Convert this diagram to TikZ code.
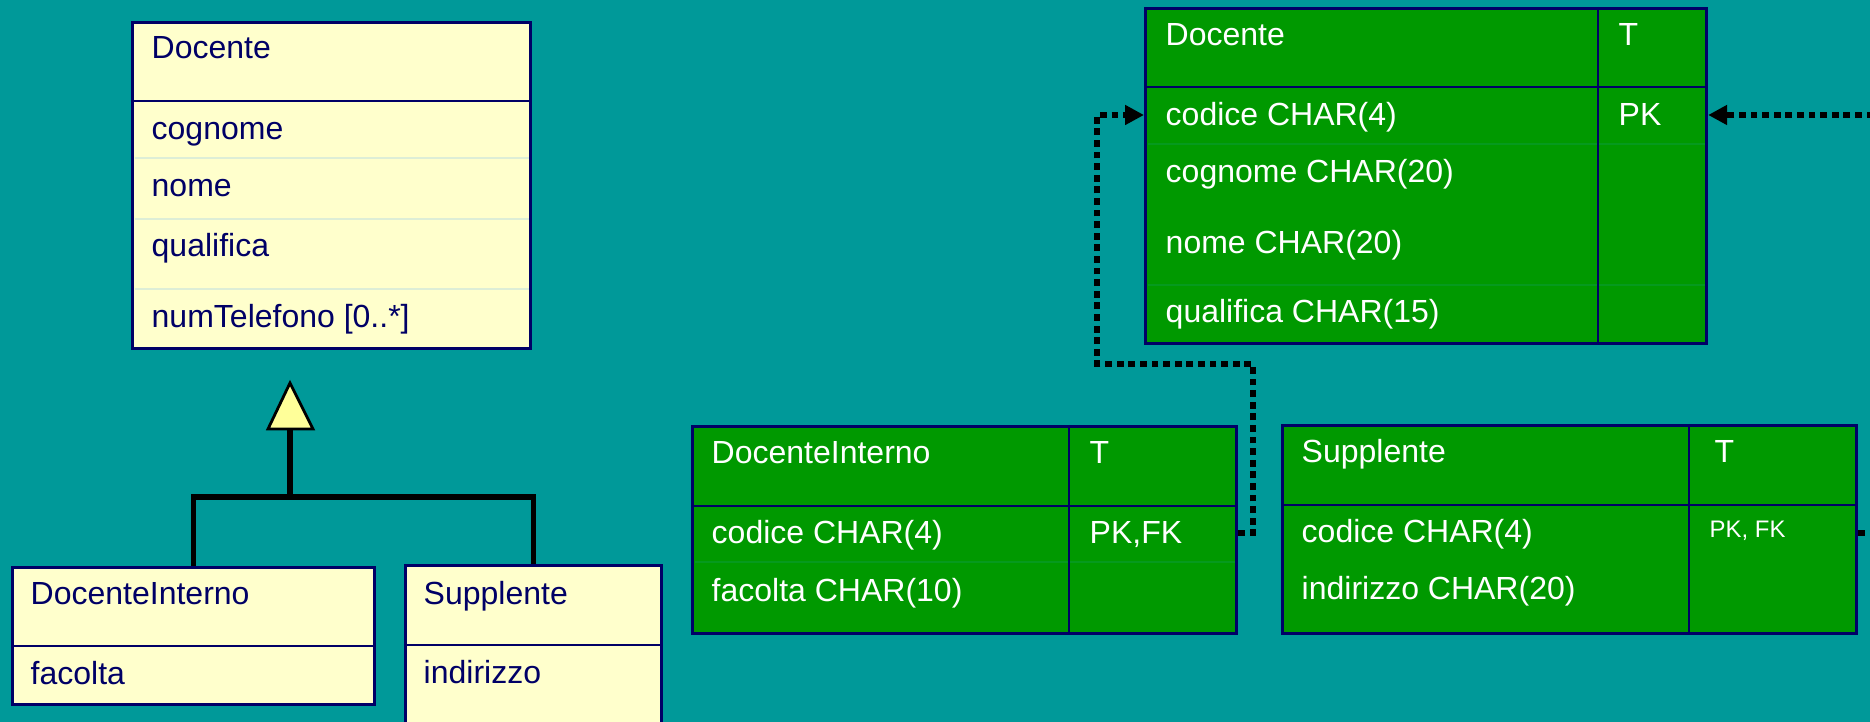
\documentclass[tikz,border=0pt]{standalone}
\usepackage{fontspec}
\setmainfont{Liberation Sans}
\usetikzlibrary{arrows.meta}

\definecolor{bgteal}{HTML}{009999}
\definecolor{tabgreen}{HTML}{009900}
\definecolor{umlfill}{HTML}{FFFFCC}
\definecolor{navy}{HTML}{000066}
\definecolor{genfill}{HTML}{FFFF99}
\definecolor{umlrule}{HTML}{DDEED6}
\definecolor{tabrule}{HTML}{059A1E}

\begin{document}
\begin{tikzpicture}[x=0.01cm, y=-0.01cm]
  \tikzstyle{umlbox} = [draw=navy, fill=umlfill, line width=0.8pt, anchor=north west, inner sep=0pt];
  \tikzstyle{tabbox} = [draw=navy, fill=tabgreen, line width=0.8pt, anchor=north west, inner sep=0pt];
  \tikzstyle{umltext} = [anchor=base west, inner sep=0pt, text=navy, font=\fontsize{9.1}{11}\selectfont];
  \tikzstyle{tabtext} = [anchor=base west, inner sep=0pt, text=white, font=\fontsize{9.1}{11}\selectfont];
  \tikzstyle{keytext} = [tabtext, font=\fontsize{6.8}{8}\selectfont];
  \tikzstyle{rule} = [draw=navy, line width=0.8pt];
  \tikzstyle{faint} = [shorten >=1pt, shorten <=1pt];
  \tikzstyle{genline} = [line width=1.6pt];
  \tikzstyle{fkline} = [line width=1.95pt, dash pattern=on 1.95pt off 1.35pt];
  \tikzstyle{fkhead} = [-{Triangle[length=0.19cm, width=0.19cm]}];

  \useasboundingbox (0,0) rectangle (1870,722);
  \fill[bgteal] (0,0) rectangle (1870,722);
  \clip (0,0) rectangle (1870,722);

  % UML classes
  \node[umlbox, minimum width=3.98cm, minimum height=3.26cm] (umlDocente) at (131,21) {};
  \node[umlbox, minimum width=3.62cm, minimum height=1.37cm] (umlInterno) at (11,566) {};
  \node[umlbox, minimum width=2.56cm, minimum height=1.80cm] (umlSupplente) at (404,564) {};

  \draw[rule] (umlDocente.west |- 0,101) -- (umlDocente.east |- 0,101);
  \foreach \y in {158,219,289}
    \draw[umlrule, faint] (umlDocente.west |- 0,\y) -- (umlDocente.east |- 0,\y);
  \draw[rule] (umlInterno.west |- 0,646) -- (umlInterno.east |- 0,646);
  \draw[rule] (umlSupplente.west |- 0,645) -- (umlSupplente.east |- 0,645);

  \node[umltext] (uDocente) at (151,59) {Docente};
  \node[umltext] (uCognome) at (151,140) {cognome};
  \node[umltext] (uNome) at (151,197) {nome};
  \node[umltext] (uQualifica) at (151,257) {qualifica};
  \node[umltext] (uTelefono) at (151,328) {numTelefono [0..*]};
  \node[umltext] (uInterno) at (30,605) {DocenteInterno};
  \node[umltext] (uFacolta) at (30,684) {facolta};
  \node[umltext] (uSupplente) at (423,604) {Supplente};
  \node[umltext] (uIndirizzo) at (423,683) {indirizzo};

  % generalizzazione
  \draw[line width=0.8pt, fill=genfill] (290,383) -- (313,429) -- (268,429) -- cycle;
  \coordinate (genTip) at (290,429);
  \coordinate (genJoin) at (290,497);
  \draw[genline] (umlInterno.north) |- (umlSupplente.north |- genJoin) -- (umlSupplente.north);
  \draw[genline] (genJoin) -- (genTip);

  % tabelle
  \node[tabbox, minimum width=5.61cm, minimum height=3.35cm] (tabDocente) at (1144,7) {};
  \node[tabbox, minimum width=5.44cm, minimum height=2.07cm] (tabInterno) at (691,425) {};
  \node[tabbox, minimum width=5.74cm, minimum height=2.08cm] (tabSupplente) at (1281,424) {};

  \foreach \y in {144,285}
    \draw[tabrule, faint] (tabDocente.west |- 0,\y) -- (tabDocente.east |- 0,\y);
  \draw[tabrule, faint] (tabInterno.west |- 0,562) -- (tabInterno.east |- 0,562);
  \draw[rule] (tabDocente.west |- 0,87) -- (tabDocente.east |- 0,87);
  \draw[rule] (tabDocente.north -| 1598,0) -- (tabDocente.south -| 1598,0);
  \draw[rule] (tabInterno.west |- 0,506) -- (tabInterno.east |- 0,506);
  \draw[rule] (tabInterno.north -| 1069,0) -- (tabInterno.south -| 1069,0);
  \draw[rule] (tabSupplente.west |- 0,505) -- (tabSupplente.east |- 0,505);
  \draw[rule] (tabSupplente.north -| 1689,0) -- (tabSupplente.south -| 1689,0);

  \node[tabtext] (tDocente) at (1165,46) {Docente};
  \node[tabtext] (tDocT) at (1618,46) {T};
  \node[tabtext] (tDocCodice) at (1165,126) {codice CHAR(4)};
  \node[tabtext] (tDocPK) at (1618,126) {PK};
  \node[tabtext] (tDocCognome) at (1165,183) {cognome CHAR(20)};
  \node[tabtext] (tDocNome) at (1165,254) {nome CHAR(20)};
  \node[tabtext] (tDocQualifica) at (1165,323) {qualifica CHAR(15)};

  \node[tabtext] (tInterno) at (711,464) {DocenteInterno};
  \node[tabtext] (tIntT) at (1089,464) {T};
  \node[tabtext] (tIntCodice) at (711,544) {codice CHAR(4)};
  \node[tabtext] (tIntKey) at (1089,544) {PK,FK};
  \node[tabtext] (tIntFacolta) at (711,602) {facolta CHAR(10)};

  \node[tabtext] (tSupplente) at (1301,463) {Supplente};
  \node[tabtext] (tSupT) at (1714,463) {T};
  \node[tabtext] (tSupCodice) at (1301,543) {codice CHAR(4)};
  \node[keytext] (tSupKey) at (1709,538) {PK, FK};
  \node[tabtext] (tSupIndirizzo) at (1301,600) {indirizzo CHAR(20)};

  % chiavi esterne
  \coordinate (fkBendA) at (1253,364);
  \coordinate (fkBendB) at (1097,115);
  \coordinate (offSup) at (1885,533);
  \coordinate (offDoc) at (1885,115);
  \draw[fkline, fkhead] (tabInterno.east |- 0,533) -| (fkBendA) -| (fkBendB) -- (tabDocente.west |- 0,115);
  \draw[fkline] (tabSupplente.east |- 0,533) -- (offSup);
  \draw[fkline, fkhead] (offDoc) -- (tabDocente.east |- 0,115);
\end{tikzpicture}
\end{document}
